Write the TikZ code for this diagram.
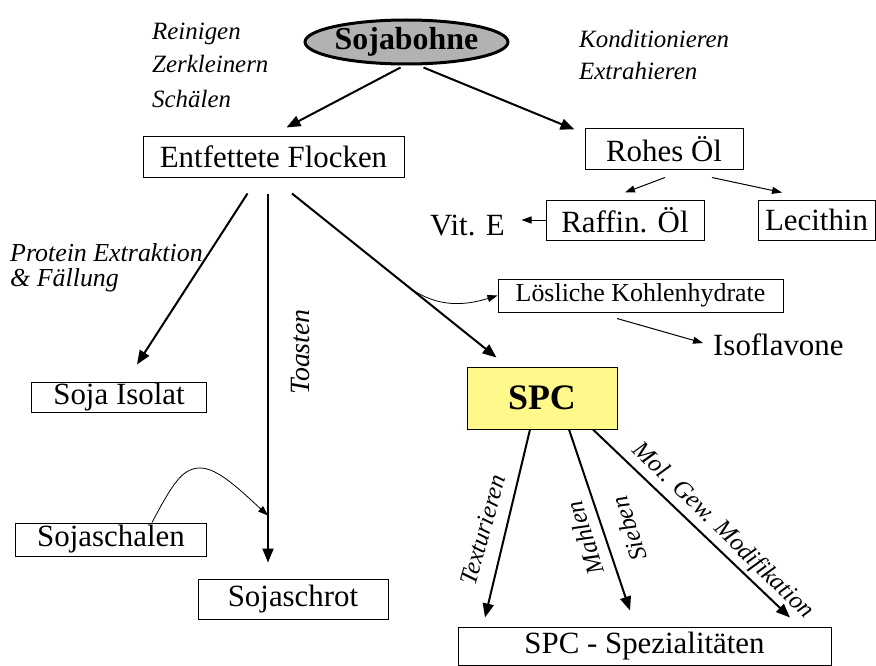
\documentclass[tikz,border=0pt]{standalone}
\usepackage{fontspec}
\setmainfont{Liberation Serif}
\usetikzlibrary{arrows.meta,calc,shapes.geometric}
\begin{document}
\begin{tikzpicture}[x=1bp,y=-1bp,
  box/.style={draw, line width=1bp, inner sep=0, font=\fontsize{31}{36}\selectfont},
  smallbox/.style={draw, line width=1bp, inner sep=0, font=\fontsize{26}{30}\selectfont},
  lab/.style={inner sep=0, font=\fontsize{25}{30}\selectfont\itshape},
  plain/.style={inner sep=0, font=\fontsize{31}{36}\selectfont},
  bigarr/.style={line width=2bp, -{Triangle[length=14bp,width=11bp]}},
  thinarr/.style={line width=1bp, -{Triangle[length=10bp,width=7bp]}},
  thincurve/.style={line width=0.8bp, -{Triangle[length=10bp,width=7bp]}}]
\useasboundingbox (0,0) rectangle (876,666);
% nodes
\node[ellipse, draw, line width=3bp, fill=black!30, inner sep=0, minimum width=167bp, minimum height=44bp,
      font=\fontsize{32}{36}\selectfont\bfseries] (soja) at (406.5,42) {Sojabohne};
\node[box, minimum width=261bp, minimum height=40bp] (ent) at (273.5,157) {Entfettete Flocken};
\node[box, minimum width=158bp, minimum height=40bp] (rohes) at (664,149) {Rohes Öl};
\node[box, minimum width=158bp, minimum height=40bp] (raffin) at (625,220) {Raffin. Öl};
\node[box, minimum width=117bp, minimum height=40bp] (lecithin) at (816.5,220) {Lecithin};
\node[plain, anchor=base west] (vit) at (430,235) {Vit. E};
\node[smallbox, minimum width=285bp, minimum height=33bp] (loesl) at (640.5,295.5) {Lösliche Kohlenhydrate};
\node[plain, anchor=base west] (iso) at (713,355) {Isoflavone};
\node[draw, line width=1bp, fill=yellow!45, inner sep=0, minimum width=150bp, minimum height=62bp,
      font=\fontsize{36}{40}\selectfont\bfseries] (spc) at (542,398) {SPC};
\node[box, minimum width=174bp, minimum height=30bp] (isolat) at (119,397) {Soja Isolat};
\node[box, minimum width=190bp, minimum height=33bp] (schalen) at (111,539.5) {Sojaschalen};
\node[box, minimum width=190bp, minimum height=40bp] (schrot) at (293,599) {Sojaschrot};
\node[box, minimum width=373bp, minimum height=38bp] (spez) at (644.5,646) {SPC - Spezialitäten};
% labels
\node[lab, anchor=base west] (l1) at (152,40) {Reinigen};
\node[lab, anchor=base west] (l2) at (152,73) {Zerkleinern};
\node[lab, anchor=base west] (l3) at (152,108) {Schälen};
\node[lab, anchor=base west] (l4) at (579,48) {Konditionieren};
\node[lab, anchor=base west] (l5) at (579,80) {Extrahieren};
\node[lab, anchor=base west, font=\fontsize{26}{30}\selectfont\itshape] (l6) at (10,261) {Protein Extraktion};
\node[lab, anchor=base west, font=\fontsize{26}{30}\selectfont\itshape] (l7) at (10,286) {\& Fällung};
\node[lab, rotate=90, font=\fontsize{28}{32}\selectfont\itshape] (toast) at (301,352) {Toasten};
\node[lab, rotate=74] (tex) at (483,530) {Texturieren};
\node[lab, rotate=108] (mahl) at (585,538) {Mahlen};
\node[lab, rotate=108] (sieb) at (629,529) {Sieben};
\node[lab, rotate=-44] (mol) at (723,531) {Mol. Gew. Modifikation};
% connectors
\draw[bigarr] ($(soja.south)+(-6,2)$) -- ($(ent.north)+(13,-9)$);
\draw[bigarr] ($(soja.south)+(17,2)$) -- ($(rohes.north west)+(-10,1)$);
\draw[bigarr] ($(ent.south)+(-26,16)$) -- ($(isolat.north)+(18,-17)$);
\draw[bigarr] ($(ent.south)+(-5.5,16)$) coordinate (t1) -- ($(schrot.north)+(-25,-16)$) coordinate (t2);
\draw[bigarr] ($(ent.south)+(18.5,16)$) coordinate (e1) -- ($(spc.north west)+(30,-9)$) coordinate (e2);
\coordinate (br) at ($(e1)!0.53!(e2)$);
\draw[thincurve] (br) .. controls ($(br)+(25,22)$) and ($(loesl.west)+(-45,14)$) .. (loesl.west);
\draw[thinarr] ($(loesl.south)+(-23.5,6)$) -- ($(iso.base west)+(-10,-12)$);
\draw[thinarr] ($(rohes.south)+(1,8)$) -- ($(raffin.north)+(0,-7)$);
\draw[thinarr] ($(rohes.south)+(48,8)$) -- ($(lecithin.north)+(-34.5,-7)$);
\draw[thinarr] (raffin.west) -- ($(raffin.west)+(-24,0)$);
\coordinate (sj) at ($(schrot.north)+(-25,-63)$);
\draw[thincurve] ($(schalen.north)+(41,0)$) .. controls (172,485) and (182,468) .. (200,468)
   .. controls (218,468) and (240,490) .. (sj);
\draw[bigarr] ($(spc.south)+(-12,0)$) -- ($(spez.north)+(-159.5,-9)$);
\draw[bigarr] ($(spc.south)+(27,0)$) -- ($(spez.north)+(-14.5,-16)$);
\draw[bigarr] ($(spc.south)+(51,0)$) -- ($(spez.north)+(145.5,-9)$);
\end{tikzpicture}
\end{document}
